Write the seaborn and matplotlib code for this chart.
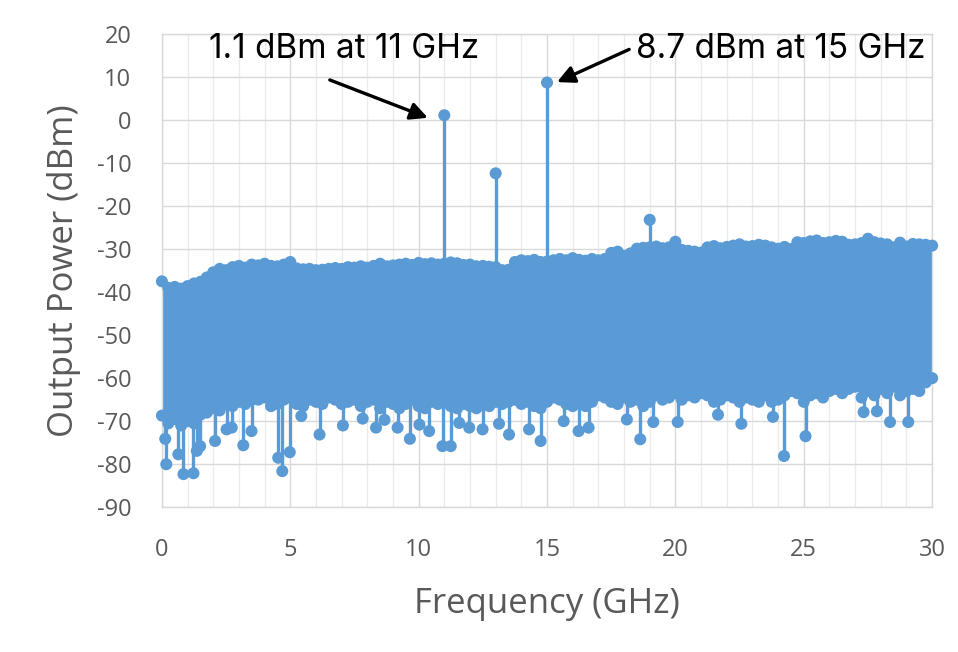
import matplotlib
matplotlib.use('Agg')
import matplotlib.pyplot as plt
import seaborn as sns
import pandas as pd
import numpy as np

freq_grid = np.arange(0, 30.001, 0.25)
noise_top = [
    -37.5, -39.0, -38.8, -39.2, -38.6, -38.0, -37.6, -36.6, -35.4, -34.6,
    -34.9, -34.2, -33.9, -34.3, -33.6, -33.8, -33.4, -33.9, -34.0, -33.6,
    -33.0, -34.5, -34.7, -34.6, -34.9, -34.8, -34.6, -34.4, -34.6, -34.2,
    -34.3, -34.0, -34.3, -33.9, -33.4, -34.0, -33.8, -33.6, -33.4, -33.7,
    -33.2, -33.5, -33.3, -33.6, -33.4, -33.1, -33.3, -33.7, -33.6, -34.0,
    -33.9, -34.1, -34.2, -34.9, -34.8, -33.0, -32.6, -32.8, -32.5, -33.0,
    -32.9, -32.6, -32.3, -32.6, -32.1, -32.5, -32.7, -32.3, -32.6, -32.3,
    -30.9, -30.6, -31.6, -31.0, -29.9, -29.7, -29.6, -29.4, -29.8, -29.6,
    -28.3, -30.2, -30.4, -30.6, -30.8, -29.6, -29.3, -29.8, -29.5, -29.2,
    -28.9, -29.4, -29.3, -29.0, -29.2, -29.6, -29.9, -29.5, -30.0, -28.4,
    -28.6, -28.2, -28.0, -28.6, -28.4, -28.1, -28.3, -29.0, -28.9, -28.6,
    -27.6, -28.4, -28.7, -28.9, -29.6, -28.5, -29.4, -28.8, -28.9, -29.0,
    -29.2,
]
noise_bottom = [
    -68.7, -70.5, -69.5, -71.0, -70.0, -70.5, -68.5, -68.0, -67.0, -67.5,
    -66.0, -66.5, -65.5, -66.0, -65.0, -65.0, -64.5, -66.5, -66.0, -65.0,
    -64.5, -66.0, -66.5, -65.0, -65.5, -66.0, -64.5, -65.0, -66.0, -65.5,
    -65.0, -66.5, -65.5, -65.0, -67.0, -65.5, -66.0, -67.0, -66.0, -65.0,
    -66.5, -67.0, -65.5, -66.0, -65.0, -66.5, -67.0, -66.0, -66.5, -67.0,
    -66.0, -66.5, -65.5, -66.0, -65.5, -65.0, -66.0, -65.5, -66.5, -67.0,
    -65.5, -64.5, -65.0, -66.0, -66.5, -65.0, -66.5, -65.5, -64.0, -64.5,
    -65.5, -66.0, -64.5, -65.5, -65.0, -66.5, -65.5, -64.0, -65.0, -64.5,
    -63.5, -65.0, -64.0, -64.5, -63.5, -64.0, -65.5, -65.0, -64.0, -64.5,
    -65.5, -64.5, -65.0, -65.5, -64.0, -65.5, -65.0, -64.0, -63.0, -63.5,
    -65.5, -64.0, -63.5, -64.5, -63.0, -62.5, -63.5, -62.5, -62.0, -64.5,
    -63.0, -64.0, -62.5, -63.5, -62.0, -64.0, -63.0, -62.5, -63.0, -61.0,
    -60.0,
]

# isolated deep samples hanging below the noise band
dip_freq = [0.13, 0.17, 0.64, 0.84, 1.23, 1.36, 1.49, 2.07, 2.52, 2.72,
            3.17, 3.49, 4.53, 4.69, 4.98, 5.43, 6.14, 7.05, 7.82, 8.34,
            8.67, 9.18, 9.66, 10.03, 10.41, 10.93, 11.25, 11.58, 11.97, 12.49,
            13.13, 13.52, 14.30, 14.75, 15.65, 16.23, 16.62, 18.11, 18.63, 19.14,
            20.09, 21.66, 22.57, 23.80, 24.23, 25.07, 27.33, 27.85, 28.36, 29.07]
dip_level = [-74.1, -80.0, -77.7, -82.3, -82.1, -76.9, -75.8, -74.6, -71.9, -71.5,
             -75.6, -72.3, -78.5, -81.6, -77.2, -68.8, -73.1, -71.0, -69.4, -71.5,
             -69.7, -71.5, -74.1, -70.8, -72.3, -75.8, -75.8, -70.4, -71.5, -71.9,
             -70.6, -73.1, -71.9, -74.6, -70.0, -72.3, -71.5, -69.6, -74.2, -70.2,
             -70.2, -68.5, -70.6, -69.0, -78.1, -73.5, -67.9, -67.7, -70.2, -70.2]

# tones
tone_freq = [11, 13, 15, 19]
tone_level = [1.1, -12.4, 8.7, -23.2]

blue = '#5B9BD5'
grey_txt = '#595959'

sns.set_theme(style='white')
plt.rcParams['font.family'] = ['Open Sans', 'DejaVu Sans']
plt.rcParams['axes.unicode_minus'] = False

fig, ax = plt.subplots(figsize=(9.58, 6.52), dpi=100)
fig.subplots_adjust(left=0.169, right=0.973, top=0.948, bottom=0.222)

# noise band
ax.fill_between(freq_grid, noise_top, noise_bottom, color=blue, lw=0, zorder=2)
ax.vlines(dip_freq, -62, dip_level, color=blue, lw=2.4, zorder=2)
ax.vlines(tone_freq, -40, tone_level, color=blue, lw=2.4, zorder=2)

band = pd.DataFrame({'freq': np.concatenate([freq_grid, freq_grid]),
                     'power': noise_top + noise_bottom})
dips = pd.DataFrame({'freq': dip_freq, 'power': dip_level})
tones = pd.DataFrame({'freq': tone_freq, 'power': tone_level})
for d in (band, dips, tones):
    sns.scatterplot(data=d, x='freq', y='power', s=75, color=blue,
                    edgecolor='none', linewidth=0, ax=ax, zorder=3, clip_on=False)

# axes
ax.set_xlim(0, 30)
ax.set_ylim(-90, 20)
ax.set_xticks(range(0, 31, 5))
ax.set_xticks(range(0, 31), minor=True)
ax.set_yticks(range(-90, 21, 10))
ax.grid(which='major', color='#D9D9D9', lw=1)
ax.grid(which='minor', axis='x', color='#EBEBEB', lw=1)
ax.set_axisbelow(True)
for s in ax.spines.values():
    s.set_color('#D9D9D9')
    s.set_linewidth(1)
ax.tick_params(which='both', length=0, labelsize=17, labelcolor=grey_txt)
ax.tick_params(axis='x', pad=22)
ax.tick_params(axis='y', pad=22)
ax.set_xlabel('Frequency (GHz)', fontsize=25, color=grey_txt, labelpad=18)
ax.set_ylabel('Output Power (dBm)', fontsize=25, color=grey_txt, labelpad=11)

# annotations
ann_font = ['Inter', 'DejaVu Sans']
ax.text(7.09, 16.6, '1.1 dBm at 11 GHz', ha='center', va='center',
        fontsize=24, family=ann_font, color='black')
ax.text(24.1, 16.6, '8.7 dBm at 15 GHz', ha='center', va='center',
        fontsize=24, family=ann_font, color='black')
arrow = dict(arrowstyle='-|>', color='black', lw=2.4, mutation_scale=26,
             shrinkA=0, shrinkB=0)
ax.annotate('', xy=(10.36, 0.5), xytext=(6.54, 9.3), arrowprops=arrow)
ax.annotate('', xy=(15.39, 8.8), xytext=(18.2, 16.4), arrowprops=arrow)

fig.savefig('out.png', dpi=100, facecolor='white')
